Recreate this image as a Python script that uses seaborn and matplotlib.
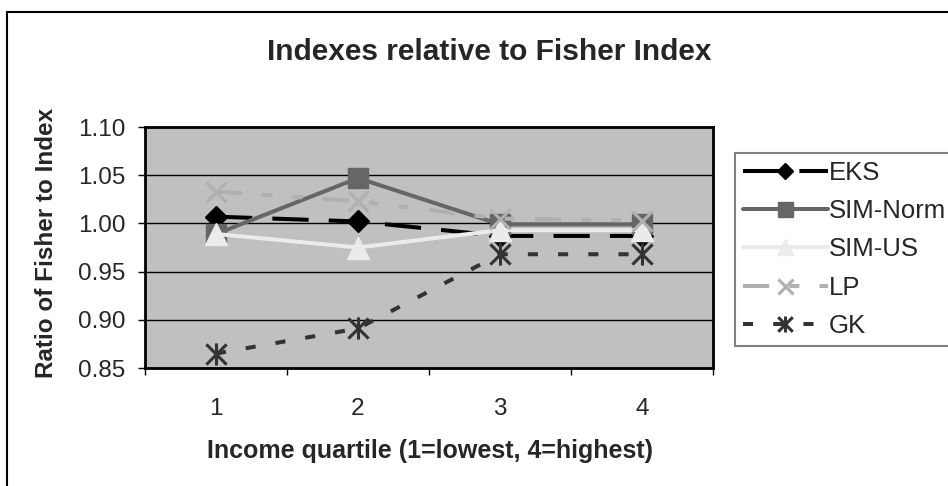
import matplotlib
matplotlib.use("Agg")
import matplotlib.pyplot as plt
from matplotlib.path import Path
from matplotlib.patches import Rectangle
import pandas as pd
import seaborn as sns

# Ratio of Fisher index to each alternative index, by income quartile
quartiles = [1, 2, 3, 4]
eks = [1.007, 1.002, 0.987, 0.987]
sim_norm = [0.989, 1.047, 0.999, 0.999]
sim_us = [0.989, 0.975, 0.993, 0.993]
lp = [1.033, 1.023, 1.005, 1.003]
gk = [0.865, 0.891, 0.968, 0.968]

series_names = ["EKS", "SIM-Norm", "SIM-US", "LP", "GK"]
y_ticks = [0.85, 0.90, 0.95, 1.00, 1.05, 1.10]
x_tick_labels = ["1", "2", "3", "4"]

title = "Indexes relative to Fisher Index"
x_label = "Income quartile (1=lowest, 4=highest)"
y_label = "Ratio of Fisher to Index"

df = pd.DataFrame({
    "quartile": quartiles * 5,
    "ratio": eks + sim_norm + sim_us + lp + gk,
    "index": [n for n in series_names for _ in quartiles],
})

sns.set_style("white")
plt.rcParams["font.family"] = ["Liberation Sans", "DejaVu Sans"]

DPI = 100
fig = plt.figure(figsize=(9.48, 4.86), dpi=DPI, facecolor="white")
W, H = 948, 486
ax_l, ax_r, ax_t, ax_b = 145, 713, 127, 368
ax = fig.add_axes([ax_l / W, 1 - ax_b / H, (ax_r - ax_l) / W, (ax_b - ax_t) / H])
ax.set_facecolor("#c0c0c0")

# asterisk marker: an "x" with a vertical stroke through it
asterisk = Path(
    [(-0.5, -0.5), (0.5, 0.5), (-0.5, 0.5), (0.5, -0.5), (0, -0.55), (0, 0.55)],
    [Path.MOVETO, Path.LINETO, Path.MOVETO, Path.LINETO, Path.MOVETO, Path.LINETO],
)

lw = 2.9
styles = {
    "EKS": dict(color="#000000", marker="D", ms=11, mew=1.0, ls=(0, (9, 5))),
    "SIM-Norm": dict(color="#666666", marker="s", ms=15, mew=1.0, ls="-"),
    "SIM-US": dict(color="#ebebeb", marker="^", ms=16, mew=1.0, ls="-"),
    "LP": dict(color="#b0b0b0", marker="x", ms=15, mew=2.2,
               ls=(0, (6.5, 5, 2.5, 5, 2.5, 5))),
    "GK": dict(color="#333333", marker=asterisk, ms=16, mew=2.2, ls=(0, (2.5, 5))),
}

for name in series_names:
    st = styles[name]
    sub = df[df["index"] == name]
    filled = name in ("EKS", "SIM-Norm", "SIM-US")
    sns.lineplot(
        data=sub, x="quartile", y="ratio", ax=ax, errorbar=None,
        color=st["color"], linewidth=lw, linestyle=st["ls"],
        marker=st["marker"], markersize=st["ms"],
        markeredgecolor=st["color"], markeredgewidth=st["mew"],
        markerfacecolor=st["color"] if filled else "none",
        label=name, legend=False,
    )
    ax.lines[-1].set_dash_capstyle("butt")

ax.set_xlim(0.5, 4.5)
ax.set_ylim(0.85, 1.10)
ax.set_yticks(y_ticks)
ax.set_yticklabels([f"{v:.2f}" for v in y_ticks])
ax.yaxis.grid(True, color="black", linewidth=1.0)
ax.xaxis.grid(False)
ax.set_axisbelow(True)

# category boundaries carry the tick marks, category centres carry the labels
ax.set_xticks([0.5, 1.5, 2.5, 3.5, 4.5])
ax.set_xticklabels([])
ax.set_xticks(quartiles, minor=True)
ax.set_xticklabels(x_tick_labels, minor=True)
ax.tick_params(axis="x", which="major", direction="out", length=5, width=1,
               color="black", bottom=True)
ax.tick_params(axis="x", which="minor", length=0, pad=21.5, labelsize=17.5)
ax.tick_params(axis="y", which="major", direction="out", length=5, width=1,
               color="black", left=True, pad=9, labelsize=17.5)

for sp in ax.spines.values():
    sp.set_color("black")
    sp.set_linewidth(2.0)
    sp.set_visible(True)

ax.set_xlabel(x_label, fontsize=18, fontweight="bold")
ax.set_ylabel(y_label, fontsize=17.5, fontweight="bold")
ax.xaxis.label.set_va("center")
ax.yaxis.label.set_va("center")
ax.xaxis.set_label_coords((430 - ax_l) / (ax_r - ax_l), (ax_b - 451) / (ax_b - ax_t))
ax.yaxis.set_label_coords((47 - ax_l) / (ax_r - ax_l), (ax_b - 243) / (ax_b - ax_t))

fig.text(489 / W, 1 - 52 / H, title, ha="center", va="center",
         fontsize=21.5, fontweight="bold")

leg = ax.legend(
    loc="upper left", bbox_to_anchor=(735 / W, 1 - 153 / H),
    bbox_transform=fig.transFigure, borderaxespad=0, borderpad=0.3,
    handlelength=3.3, handletextpad=0.05, labelspacing=0.56,
    fontsize=18.5, frameon=True, fancybox=False, framealpha=1,
    edgecolor="#808080",
)
leg.get_frame().set_linewidth(1.5)
for h in leg.get_lines():
    h.set_markersize(h.get_markersize() * 0.72)

# chart border
fig.add_artist(Rectangle((7 / W, -0.1), 1.2, 1.1 - 12 / H, transform=fig.transFigure,
                         fill=False, edgecolor="black", linewidth=1.5, clip_on=False))

fig.savefig("out.png", dpi=DPI, facecolor="white")
